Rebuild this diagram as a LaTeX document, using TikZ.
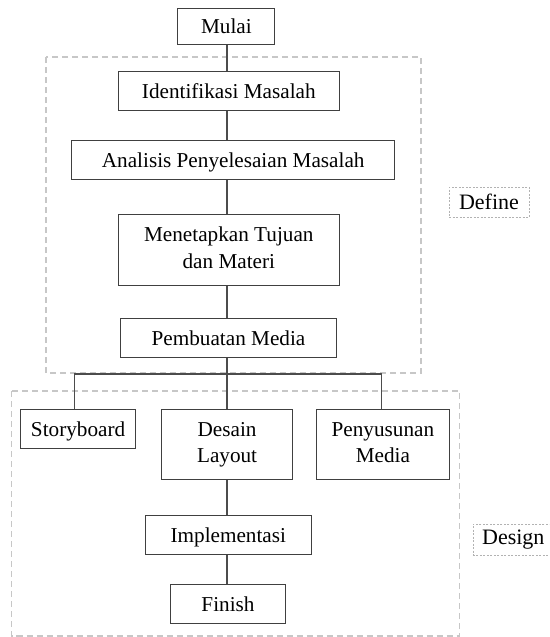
\documentclass[tikz,border=0pt]{standalone}
\usepackage{fontspec}
\setmainfont{Liberation Serif}
\begin{document}
\begin{tikzpicture}[x=1pt,y=-1pt,
  stepbox/.style={draw=black!75,line width=1pt,rectangle,inner sep=0pt,align=center,
    font=\fontsize{21.2}{26.5}\selectfont,text=black},
  oneline/.style={stepbox,text height=15pt,text depth=0pt},
  conn/.style={draw=black!70,line width=1.2pt},
  phase/.style={draw=black!22,line width=1.1pt,dash pattern=on 6pt off 4pt},
  phaselabel/.style={draw=black!30,line width=0.6pt,dash pattern=on 2pt off 1.5pt,rectangle,
    inner sep=0pt,font=\fontsize{22}{25}\selectfont,text=black}]
\useasboundingbox (0,0) rectangle (549,637);
\clip (0,0) rectangle (549,637);
% phase boxes
\draw[phase] (46,57) rectangle (421,373);
\draw[phase] (11.5,391) rectangle (459.5,636);
\node[phaselabel,minimum width=80pt,minimum height=30pt] (define) at (489,202) {Define};
\node[phaselabel,minimum width=85pt,minimum height=31pt,anchor=west] (design) at (472.5,539.5) {\hspace*{-4pt}Design};
% nodes
\node[oneline,minimum width=97pt,minimum height=36pt] (mulai) at (226.4,26) {Mulai};
\node[oneline,minimum width=221.6pt,minimum height=39pt] (ident) at (228.8,90.5) {Identifikasi Masalah};
\node[oneline,minimum width=322.8pt,minimum height=39pt] (anal) at (233.2,159.5) {Analisis Penyelesaian Masalah};
\node[stepbox,minimum width=221.6pt,minimum height=71pt] (tuju) at (228.8,249.5) {\strut Menetapkan Tujuan\\dan Materi\strut};
\node[oneline,minimum width=215.3pt,minimum height=39pt] (pemb) at (228.5,337.5) {Pembuatan Media};
\node[oneline,minimum width=115.6pt,minimum height=39pt] (story) at (78.1,428.5) {Storyboard};
\node[stepbox,minimum width=130.6pt,minimum height=70pt] (desain) at (227.1,444) {\strut Desain\\Layout\strut};
\node[stepbox,minimum width=132.7pt,minimum height=70pt] (peny) at (382.9,444) {\strut Penyusunan\\Media\strut};
\node[oneline,minimum width=166pt,minimum height=39pt] (impl) at (228.3,534.5) {Implementasi};
\node[oneline,minimum width=114.9pt,minimum height=39pt] (fin) at (228,603.5) {Finish};
% connectors
\coordinate (sx) at (226.9,0);
\draw[conn] (sx |- mulai.south) -- (sx |- ident.north);
\draw[conn] (sx |- ident.south) -- (sx |- anal.north);
\draw[conn] (sx |- anal.south) -- (sx |- tuju.north);
\draw[conn] (sx |- tuju.south) -- (sx |- pemb.north);
\coordinate (j) at (226.9,374);
\draw[conn] (sx |- pemb.south) -- (j);
\coordinate (sl) at (74.6,0);
\coordinate (sr) at (381.7,0);
\draw[conn] (sl |- story.north) -- (sl |- j) -- (sr |- j) -- (sr |- peny.north);
\draw[conn] (j) -- (sx |- desain.north);
\draw[conn] (sx |- desain.south) -- (sx |- impl.north);
\draw[conn] (sx |- impl.south) -- (sx |- fin.north);
\end{tikzpicture}
\end{document}
